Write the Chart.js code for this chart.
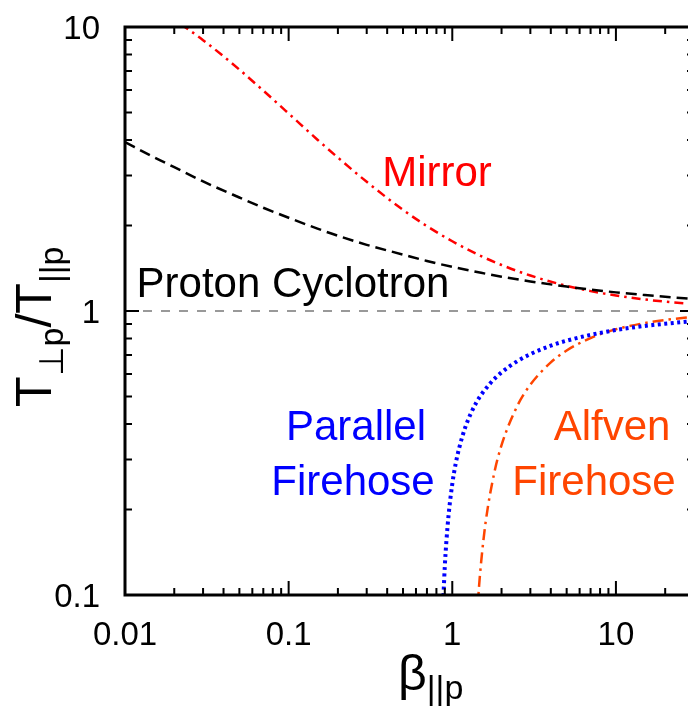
<!DOCTYPE html>
<html>
<head>
<meta charset="utf-8">
<script src="https://cdn.jsdelivr.net/npm/chart.js@4.4.0/dist/chart.umd.min.js"></script>
<style>
  html, body { margin: 0; padding: 0; background: #fff; overflow: hidden; }
  #wrap { width: 688px; height: 713px; overflow: hidden; }
</style>
</head>
<body>
<div id="wrap"><canvas id="chart" width="710" height="713"></canvas></div>
<script>
// axis ranges and tick labels
const xRange = [0.01, 30];
const yRange = [0.1, 10];
const xMajorTicks = [0.01, 0.1, 1, 10];
const xTickLabels = ['0.01', '0.1', '1', '10'];
const yMajorTicks = [0.1, 1, 10];
const yTickLabels = ['0.1', '1', '10'];

// instability thresholds
const betaPC = [0.01, 0.015, 0.02, 0.03, 0.05, 0.07, 0.1, 0.15, 0.2, 0.3, 0.5, 0.7, 1, 1.5, 2, 3, 5, 7, 10, 15, 20, 30];
const protonCyclotron = [3.93, 3.48, 3.21, 2.86, 2.51, 2.31, 2.13, 1.95, 1.84, 1.71, 1.58, 1.50, 1.43, 1.363, 1.321, 1.271, 1.219, 1.190, 1.163, 1.138, 1.122, 1.103];
const mirror = [13.3, 11.8, 10.6, 8.99, 7.08, 5.97, 4.96, 4.01, 3.47, 2.85, 2.27, 1.99, 1.76, 1.561, 1.452, 1.333, 1.226, 1.175, 1.134, 1.098, 1.079, 1.058];

const betaPF = [0.88, 0.885, 0.9, 0.92, 0.95, 1, 1.05, 1.1, 1.2, 1.4, 1.7, 2, 2.5, 3, 4, 5, 7, 10, 15, 20, 30];
const parallelFirehose = [0.094, 0.102, 0.126, 0.154, 0.192, 0.246, 0.291, 0.328, 0.389, 0.475, 0.555, 0.608, 0.666, 0.705, 0.755, 0.786, 0.824, 0.857, 0.886, 0.902, 0.922];

const betaAF = [1.4, 1.45, 1.5, 1.6, 1.8, 2, 2.5, 3, 4, 5, 7, 10, 15, 20, 30];
const alfvenFirehose = [0.073, 0.103, 0.130, 0.181, 0.267, 0.337, 0.464, 0.550, 0.659, 0.726, 0.803, 0.862, 0.907, 0.930, 0.954];

const isotropyX = [0.01, 30];
const isotropyY = [1, 1];

const FONT = '"Liberation Sans", Arial, sans-serif';

const pts = (xs, ys) => xs.map((x, i) => ({ x: x, y: ys[i] }));

function minorValues(lo, hi) {
  const out = [];
  for (let d = Math.floor(Math.log10(lo)); d <= Math.ceil(Math.log10(hi)); d++) {
    for (let m = 1; m <= 9; m++) {
      const v = m * Math.pow(10, d);
      if (v >= lo * 0.999 && v <= hi * 1.001) out.push({ v: v, major: m === 1 });
    }
  }
  return out;
}

const framePlugin = {
  id: 'frame',
  afterDatasetsDraw(chart) {
    const { ctx, chartArea: a, scales } = chart;
    const xs = scales.x, ys = scales.y;
    ctx.save();
    ctx.strokeStyle = '#000';
    ctx.lineWidth = 2;
    // inward ticks on all four sides
    minorValues(xRange[0], xRange[1]).forEach(t => {
      const px = xs.getPixelForValue(t.v);
      const len = t.major ? 14 : 7;
      ctx.beginPath();
      ctx.moveTo(px, a.bottom); ctx.lineTo(px, a.bottom - len);
      ctx.moveTo(px, a.top); ctx.lineTo(px, a.top + len);
      ctx.stroke();
    });
    minorValues(yRange[0], yRange[1]).forEach(t => {
      const py = ys.getPixelForValue(t.v);
      const len = t.major ? 14 : 7;
      ctx.beginPath();
      ctx.moveTo(a.left, py); ctx.lineTo(a.left + len, py);
      ctx.moveTo(a.right, py); ctx.lineTo(a.right - len, py);
      ctx.stroke();
    });
    ctx.lineWidth = 3;
    ctx.strokeRect(a.left, a.top, a.right - a.left, a.bottom - a.top);

    // tick labels
    ctx.fillStyle = '#000';
    ctx.font = '33px ' + FONT;
    ctx.textBaseline = 'alphabetic';
    ctx.textAlign = 'center';
    xMajorTicks.forEach((v, i) => {
      ctx.fillText(xTickLabels[i], xs.getPixelForValue(v), 645);
    });
    ctx.textAlign = 'right';
    yMajorTicks.forEach((v, i) => {
      ctx.fillText(yTickLabels[i], 100, ys.getPixelForValue(v) + 12);
    });

    // x title: beta_||p
    ctx.textAlign = 'left';
    ctx.font = '50px ' + FONT;
    const bw = ctx.measureText('\u03b2').width;
    ctx.fillText('\u03b2', 398, 690);
    ctx.font = '34px ' + FONT;
    ctx.fillText('||p', 398 + bw, 699);

    // y title: T_perp p / T_||p, rotated
    ctx.save();
    ctx.translate(51, 407);
    ctx.rotate(-Math.PI / 2);
    let cx = 0;
    const part = (txt, size, dy) => {
      ctx.font = size + 'px ' + FONT;
      ctx.fillText(txt, cx, dy);
      cx += ctx.measureText(txt).width;
    };
    part('T', 50, 0);
    part('\u22a5p', 34, 12);
    part('/T', 50, 0);
    part('||p', 34, 12);
    ctx.restore();

    // curve labels
    ctx.font = '42px ' + FONT;
    ctx.textAlign = 'center';
    ctx.fillStyle = '#ff0000';
    ctx.fillText('Mirror', 437, 186);
    ctx.fillStyle = '#000';
    ctx.fillText('Proton Cyclotron', 293, 297);
    ctx.fillStyle = '#0000ff';
    ctx.fillText('Parallel', 356, 440);
    ctx.fillText('Firehose', 353, 495);
    ctx.fillStyle = '#ff4500';
    ctx.fillText('Alfven', 612, 440);
    ctx.fillText('Firehose', 594, 495);
    ctx.restore();
  }
};

new Chart(document.getElementById('chart'), {
  type: 'line',
  data: {
    datasets: [
      {
        label: 'isotropy',
        data: pts(isotropyX, isotropyY),
        borderColor: '#999999',
        borderWidth: 2,
        borderDash: [9, 9]
      },
      {
        label: 'Proton Cyclotron',
        data: pts(betaPC, protonCyclotron),
        borderColor: '#000000',
        borderWidth: 2.5,
        borderDash: [11, 6]
      },
      {
        label: 'Mirror',
        data: pts(betaPC, mirror),
        borderColor: '#ff0000',
        borderWidth: 2.5,
        borderDash: [9, 5, 2.5, 5]
      },
      {
        label: 'Parallel Firehose',
        data: pts(betaPF, parallelFirehose),
        borderColor: '#0000ff',
        borderWidth: 4,
        borderDash: [3, 3.5]
      },
      {
        label: 'Alfven Firehose',
        data: pts(betaAF, alfvenFirehose),
        borderColor: '#ff4500',
        borderWidth: 2.5,
        borderDash: [11, 5, 2.5, 5]
      }
    ]
  },
  options: {
    responsive: false,
    animation: false,
    devicePixelRatio: 1,
    layout: { padding: { left: 125, top: 27, right: 16, bottom: 118 } },
    elements: {
      point: { radius: 0 },
      line: { cubicInterpolationMode: 'monotone', fill: false }
    },
    scales: {
      x: { type: 'logarithmic', min: xRange[0], max: xRange[1], display: false },
      y: { type: 'logarithmic', min: yRange[0], max: yRange[1], display: false }
    },
    plugins: {
      legend: { display: false },
      tooltip: { enabled: false }
    }
  },
  plugins: [framePlugin]
});
</script>
</body>
</html>
